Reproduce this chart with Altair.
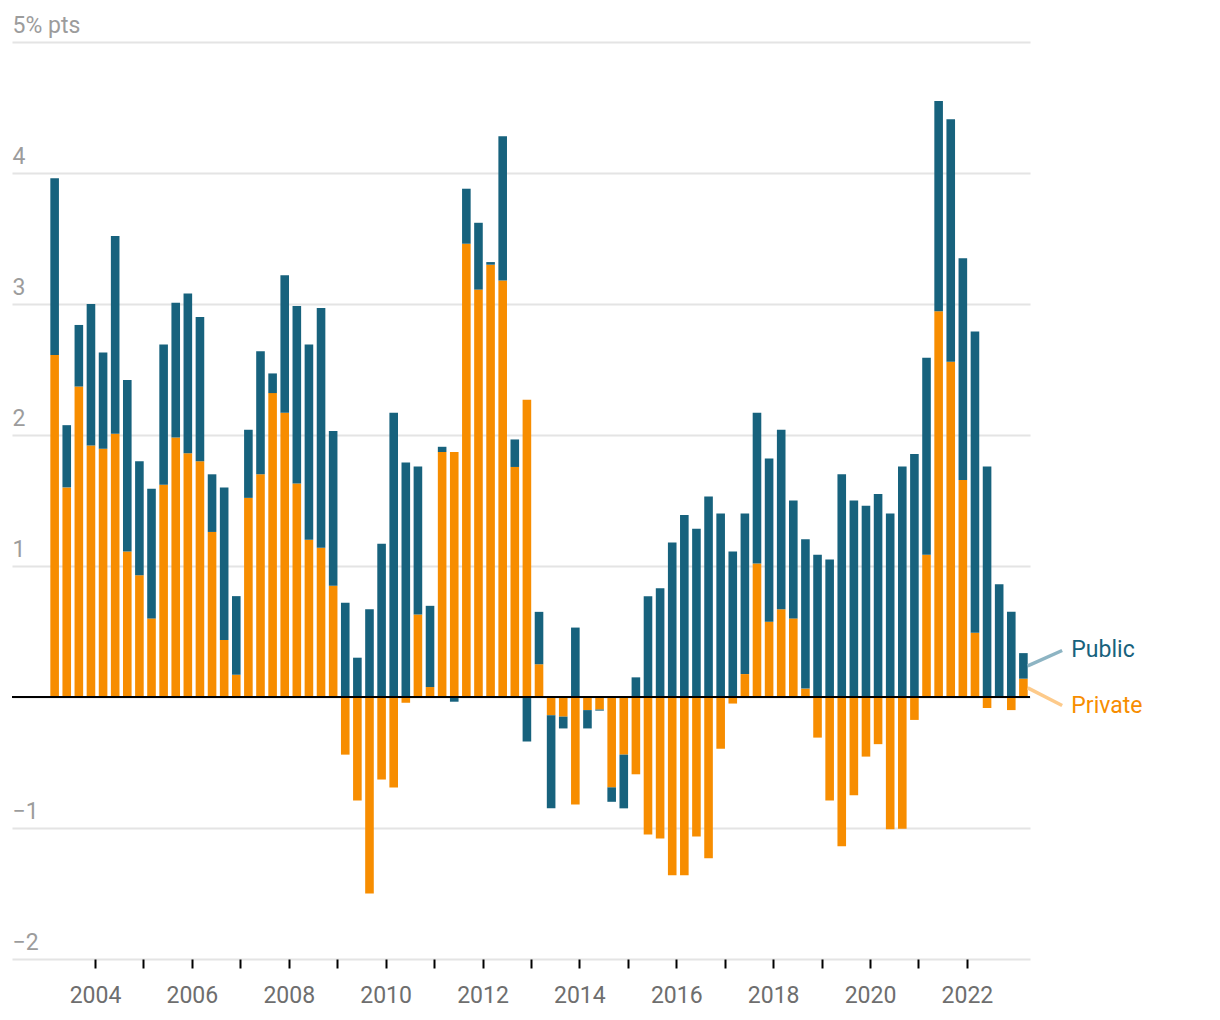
import altair as alt
import pandas as pd

# Quarterly contributions, 2003 Q1 .. 2023 Q1 (percentage points)
quarters = [f"{y} Q{q}" for y in range(2003, 2024) for q in range(1, 5)][:81]

private = [
    2.61, 1.60, 2.37, 1.92, 1.895, 2.01, 1.11, 0.93, 0.60, 1.62,
    1.98, 1.86, 1.80, 1.26, 0.435, 0.17, 1.52, 1.70, 2.32, 2.17,
    1.63, 1.20, 1.14, 0.85, -0.44, -0.79, -1.50, -0.63, -0.69, -0.044,
    0.63, 0.076, 1.87, 1.87, 3.46, 3.11, 3.30, 3.18, 1.756, 2.27,
    0.25, -0.14, -0.15, -0.82, -0.10, -0.096, -0.69, -0.44, -0.59, -1.05,
    -1.08, -1.36, -1.36, -1.065, -1.23, -0.395, -0.05, 0.175, 1.02, 0.575,
    0.67, 0.60, 0.064, -0.31, -0.79, -1.14, -0.75, -0.455, -0.36, -1.01,
    -1.005, -0.175, 1.085, 2.945, 2.56, 1.656, 0.49, -0.084, 0.0, -0.10,
    0.14,
]

public = [
    1.35, 0.475, 0.47, 1.08, 0.735, 1.51, 1.31, 0.87, 0.99, 1.07,
    1.03, 1.22, 1.10, 0.44, 1.165, 0.60, 0.52, 0.94, 0.15, 1.05,
    1.355, 1.49, 1.83, 1.18, 0.72, 0.30, 0.67, 1.17, 2.17, 1.79,
    1.13, 0.62, 0.04, -0.036, 0.42, 0.51, 0.02, 1.10, 0.21, -0.34,
    0.40, -0.71, -0.09, 0.53, -0.14, -0.008, -0.11, -0.41, 0.15, 0.77,
    0.83, 1.18, 1.39, 1.285, 1.53, 1.40, 1.11, 1.225, 1.15, 1.245,
    1.37, 0.90, 1.14, 1.085, 1.05, 1.70, 1.50, 1.46, 1.55, 1.40,
    1.76, 1.855, 1.505, 1.605, 1.85, 1.694, 2.30, 1.76, 0.86, 0.65,
    0.195,
]

series_names = ["Private", "Public"]
series_colors = ["#f78d00", "#17627d"]
connector_colors = ["#fdca8a", "#8db4c3"]
label_y = [-0.065, 0.355]  # where the end labels sit (value units)
year_ticks = list(range(2004, 2023))

rows = []
for i, qlab in enumerate(quarters):
    yr, q = int(qlab[:4]), int(qlab[-1])
    t = yr + (q - 1) / 4 + 1 / 6
    rows.append({"quarter": qlab, "t": t, "series": "Private", "value": private[i], "order": 0})
    rows.append({"quarter": qlab, "t": t, "series": "Public", "value": public[i], "order": 1})
df = pd.DataFrame(rows)

t_last = df["t"].iloc[-1]
mid_private = private[-1] / 2
mid_public = private[-1] + public[-1] / 2
ann = pd.DataFrame({
    "series": series_names,
    "y0": [mid_private, mid_public],
    "y1": label_y,
    "x0": [t_last + 0.09, t_last + 0.09],
    "x1": [t_last + 0.80, t_last + 0.80],
    "xt": [t_last + 0.99, t_last + 0.99],
})

FONT = "Roboto"
x_scale = alt.Scale(domain=[2002.2865, 2023.303], nice=False, zero=False, padding=0)
y_scale = alt.Scale(domain=[-2, 5], nice=False, zero=False)
color_scale = alt.Scale(domain=series_names, range=series_colors)
conn_scale = alt.Scale(domain=series_names, range=connector_colors)

bars = alt.Chart(df).mark_bar(size=8.6).encode(
    x=alt.X(
        "t:Q",
        scale=x_scale,
        axis=alt.Axis(
            values=year_ticks,
            labelExpr="datum.value % 2 == 0 ? format(datum.value, 'd') : ''",
            grid=False, domain=False, ticks=True, tickColor="#000000",
            tickWidth=2, tickSize=9, labelPadding=16, labelFontSize=23,
            labelColor="#6e6e6e", labelFont=FONT, title=None,
            labelFlush=False, labelOverlap=False,
        ),
    ),
    y=alt.Y(
        "value:Q",
        stack="zero",
        scale=y_scale,
        axis=alt.Axis(
            values=list(range(-2, 6)),
            format="d",
            labelExpr="datum.value == 5 ? '5% pts' : (datum.value == 0 ? '' : datum.label)",
            grid=True, gridColor="#e4e4e4", gridWidth=2, domain=False,
            ticks=False, labelAlign="left", labelBaseline="alphabetic",
            labelPadding=0, labelOffset=-10, labelFontSize=23, labelColor="#9c9c9c",
            labelFont=FONT, title=None, labelOverlap=False,
        ),
    ),
    color=alt.Color("series:N", scale=color_scale, legend=None),
    order=alt.Order("order:Q"),
)

zero = alt.Chart(df).mark_rule(color="#000000", strokeWidth=2).encode(
    y=alt.datum(0, scale=y_scale)
)

conn = alt.Chart(ann).mark_rule(strokeWidth=3.5).encode(
    x=alt.X("x0:Q", scale=x_scale),
    x2="x1:Q",
    y=alt.Y("y0:Q", scale=y_scale),
    y2="y1:Q",
    color=alt.Color("series:N", scale=conn_scale, legend=None),
)

labels = alt.Chart(ann).mark_text(
    align="left", baseline="middle", fontSize=23, font=FONT
).encode(
    x=alt.X("xt:Q", scale=x_scale),
    y=alt.Y("y1:Q", scale=y_scale),
    text="series:N",
    color=alt.Color("series:N", scale=color_scale, legend=None),
)

chart = alt.layer(bars, zero, conn, labels).resolve_scale(color="independent").properties(
    width=1018,
    height=917,
    padding={"left": 4, "top": 34, "right": 150, "bottom": 50},
    autosize=alt.AutoSizeParams(type="none"),
    background="white",
).configure_view(stroke=None)

chart.save("out.html", embed_options={"renderer": "svg", "actions": False})
